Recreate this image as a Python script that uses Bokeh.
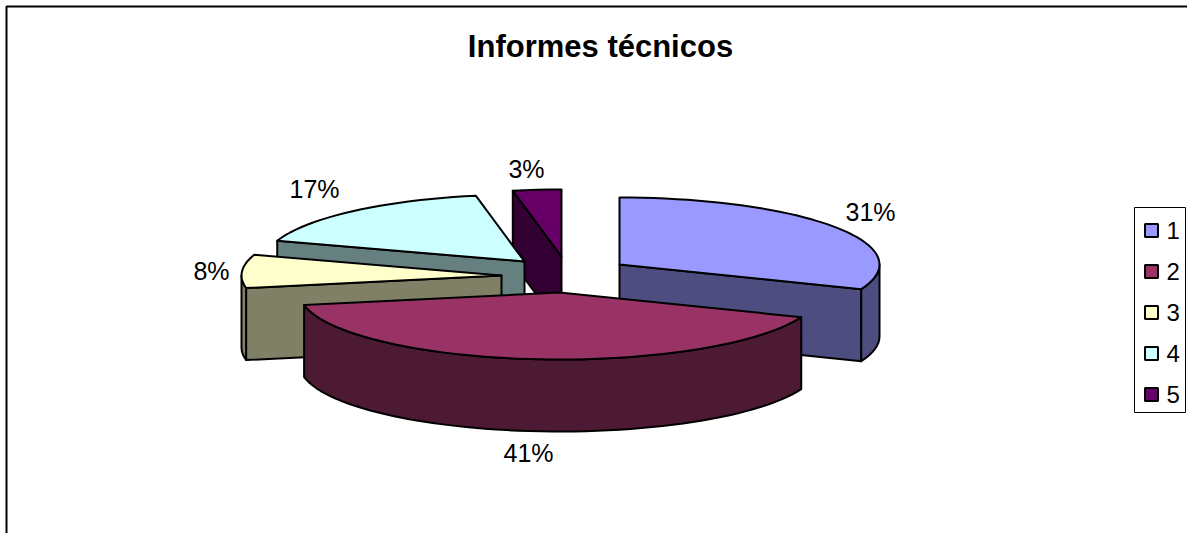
import math
from bokeh.plotting import figure
from bokeh.models import Range1d
from bokeh.core.properties import value
from bokeh.embed import file_html
from bokeh.resources import INLINE

# --- data ---
title = "Informes técnicos"
categories = ["1", "2", "3", "4", "5"]
shares = [31, 41, 8, 17, 3]
labels = ["31%", "41%", "8%", "17%", "3%"]

# --- style ---
top_colors = ["#9999FF", "#993366", "#FFFFCC", "#CCFFFF", "#660066"]
side_colors = ["#4D4D80", "#4D1A33", "#808066", "#668080", "#330033"]

# --- layout (screen pixels; y grows downward) ---
W, H = 1187, 533
RX, RY, DEPTH = 260, 67, 72
apex_x = [619, 559, 501, 524, 561]
apex_y = [264, 292, 275, 261, 256]
label_x = [870, 528, 211, 314, 526]
label_y = [211, 452, 270, 188, 168]
draw_order = [4, 3, 0, 2, 1]

p = figure(width=W, height=H, x_range=Range1d(0, W), y_range=Range1d(H, 0),
           output_backend="svg", toolbar_location=None, x_axis_type=None, y_axis_type=None,
           min_border=0, outline_line_color=None, background_fill_color="white",
           border_fill_color="white")
p.grid.visible = False

# outer chart frame (open at the right and bottom, cropped in the reference)
p.line([6, 6, W], [H, 6, 6], line_color="black", line_width=2)


def pt(i, deg, drop=0):
    a = math.radians(deg)
    return apex_x[i] + RX * math.sin(a), apex_y[i] - RY * math.cos(a) + drop


def arc(i, d0, d1, drop=0):
    n = max(2, int(abs(d1 - d0) / 2.5) + 1)
    return [pt(i, d0 + (d1 - d0) * k / (n - 1), drop) for k in range(n)]


def poly(points, color):
    p.patch([q[0] for q in points], [q[1] for q in points], fill_color=color,
            line_color="black", line_width=2, line_join="round")


# slice angles from the shares, clockwise from 12 o'clock
total = sum(shares)
starts, ends, acc = [], [], 0
for s in shares:
    starts.append(acc / total * 360)
    acc += s
    ends.append(acc / total * 360)

for i in draw_order:
    d0, d1 = starts[i], ends[i]
    ax, ay = apex_x[i], apex_y[i]
    # cut wall seen from the front
    if i in (0,):
        e = pt(i, d1)
        poly([(ax, ay), e, (e[0], e[1] + DEPTH), (ax, ay + DEPTH)], side_colors[i])
    if i in (2, 3, 4):
        e = pt(i, d0)
        poly([(ax, ay), e, (e[0], e[1] + DEPTH), (ax, ay + DEPTH)], side_colors[i])
    # outer rim, only the part that faces the viewer (90..270 degrees)
    lo, hi = max(d0, 90), min(d1, 270)
    if lo < hi:
        poly(arc(i, lo, hi) + arc(i, hi, lo, DEPTH), side_colors[i])
    # top face
    poly([(ax, ay)] + arc(i, d0, d1), top_colors[i])

# data labels
p.text(label_x, label_y, text=labels, text_font=value("Liberation Sans"), text_font_size="25px",
       text_color="black", text_align="center", text_baseline="middle")

# title
p.text([600], [46], text=[title], text_font=value("Liberation Sans"), text_font_size="31px",
       text_font_style="bold", text_color="black", text_align="center", text_baseline="middle")

# legend
LEG_X0, LEG_X1, LEG_Y0, LEG_Y1 = 1134, 1185, 207, 412
p.quad(left=[LEG_X0], right=[LEG_X1], top=[LEG_Y0], bottom=[LEG_Y1], fill_color="white",
       line_color="black", line_width=1)
leg_y = [230 + 41 * k for k in range(len(categories))]
p.rect([1151] * len(categories), leg_y, width=13, height=13, fill_color=top_colors,
       line_color="black", line_width=2)
p.text([1166] * len(categories), leg_y, text=categories, text_font=value("Liberation Sans"),
       text_font_size="24px", text_color="black", text_align="left", text_baseline="middle")

open("out.html", "w").write(file_html(p, INLINE))
